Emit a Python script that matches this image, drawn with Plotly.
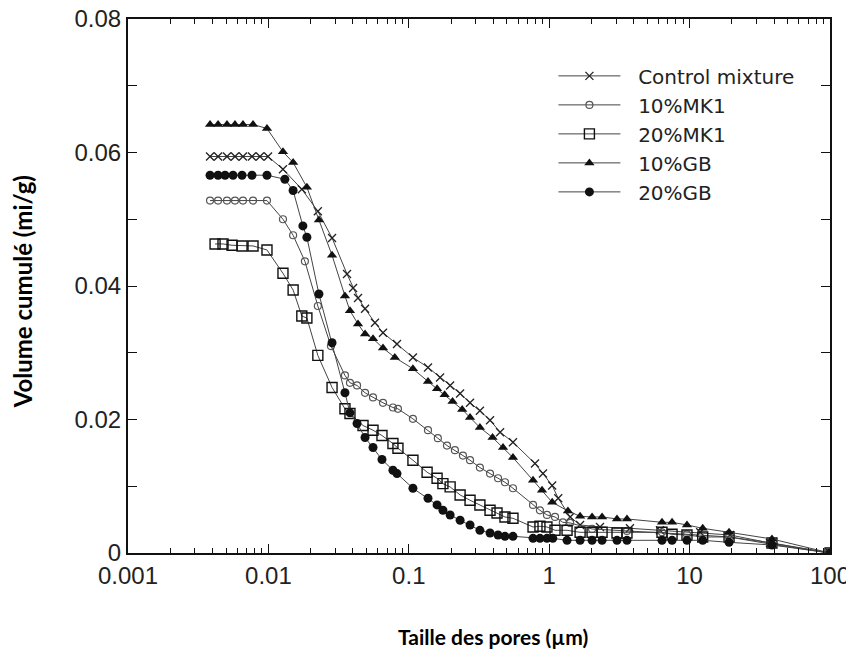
import plotly.graph_objects as go

# ---- data (pore size in µm, cumulative volume) ----
ctrl_x = [0.00384, 0.00438, 0.00507, 0.00578, 0.00659, 0.00764, 0.00871, 0.00994, 0.0127, 0.0173,
          0.0225, 0.0284, 0.0363, 0.0401, 0.0435, 0.0488, 0.0574, 0.0655, 0.0824, 0.107, 0.137,
          0.167, 0.197, 0.232, 0.273, 0.321, 0.379, 0.447, 0.552, 0.792, 0.903, 1.05, 1.16, 1.41,
          1.66, 2.30, 3.76, 6.15, 11.9, 19.4, 37.4, 100]
ctrl_y = [0.0594, 0.0594, 0.0594, 0.0594, 0.0594, 0.0594, 0.0594, 0.0594, 0.0575, 0.0545,
          0.0512, 0.0472, 0.0418, 0.0397, 0.0382, 0.0366, 0.0345, 0.0330, 0.0313, 0.0293, 0.0278,
          0.0263, 0.0251, 0.0239, 0.0225, 0.0213, 0.0199, 0.0181, 0.0166, 0.0134, 0.0119, 0.0101,
          0.0082, 0.0054, 0.0042, 0.0039, 0.0037, 0.0034, 0.0031, 0.0027, 0.0015, 0.0]

mk10_x = [0.00384, 0.00438, 0.00507, 0.00578, 0.00659, 0.00777, 0.00977, 0.0127, 0.0150, 0.0182,
          0.0225, 0.0279, 0.0351, 0.0381, 0.0428, 0.0488, 0.0556, 0.0655, 0.0771, 0.0837, 0.107,
          0.137, 0.161, 0.187, 0.213, 0.243, 0.273, 0.321, 0.379, 0.432, 0.484, 0.552, 0.767,
          0.859, 0.964, 1.10, 1.25, 1.41, 2.02, 3.58, 6.36, 9.58, 19.1, 38.6, 100]
mk10_y = [0.0528, 0.0528, 0.0528, 0.0528, 0.0528, 0.0528, 0.0528, 0.0500, 0.0476, 0.0437,
          0.0370, 0.0310, 0.0266, 0.0255, 0.0251, 0.0240, 0.0233, 0.0225, 0.0218, 0.0216, 0.0201,
          0.0184, 0.0172, 0.0161, 0.0154, 0.0146, 0.0139, 0.0128, 0.0119, 0.0112, 0.0106, 0.0097,
          0.0072, 0.0064, 0.0057, 0.0054, 0.0046, 0.0045, 0.0036, 0.0033, 0.0031, 0.0028, 0.0024,
          0.0013, 0.0]

mk20_x = [0.00417, 0.00475, 0.00551, 0.00649, 0.00777, 0.00977, 0.0127, 0.0150, 0.0173, 0.0188,
          0.0225, 0.0284, 0.0351, 0.0381, 0.0472, 0.0556, 0.0644, 0.0771, 0.0837, 0.107, 0.135,
          0.159, 0.175, 0.197, 0.232, 0.273, 0.321, 0.379, 0.425, 0.484, 0.552, 0.767, 0.859,
          0.964, 1.10, 1.34, 1.66, 2.02, 2.38, 3.04, 3.58, 6.36, 7.50, 9.58, 12.4, 19.1, 38.6, 100]
mk20_y = [0.0463, 0.0463, 0.0461, 0.0460, 0.0460, 0.0454, 0.0419, 0.0394, 0.0355, 0.0352,
          0.0296, 0.0248, 0.0216, 0.0209, 0.0191, 0.0184, 0.0176, 0.0164, 0.0157, 0.0139, 0.0121,
          0.0112, 0.0104, 0.0099, 0.0087, 0.0079, 0.0072, 0.0064, 0.0060, 0.0054, 0.0052, 0.0039,
          0.0040, 0.0039, 0.0034, 0.0034, 0.0031, 0.0031, 0.0031, 0.0030, 0.0030, 0.0031, 0.0028,
          0.0027, 0.0024, 0.0024, 0.0015, 0.0]

gb10_x = [0.00384, 0.00438, 0.00507, 0.00578, 0.00659, 0.00777, 0.00977, 0.0127, 0.0150, 0.0188,
          0.0229, 0.0284, 0.0351, 0.0381, 0.0435, 0.0488, 0.0556, 0.0655, 0.0795, 0.107, 0.137,
          0.159, 0.180, 0.205, 0.240, 0.273, 0.321, 0.395, 0.469, 0.552, 0.767, 0.889, 1.05,
          1.36, 1.66, 2.02, 2.38, 3.04, 3.58, 6.36, 7.50, 9.58, 12.4, 19.1, 38.6, 100]
gb10_y = [0.0642, 0.0642, 0.0642, 0.0642, 0.0642, 0.0642, 0.0636, 0.0601, 0.0585, 0.0548,
          0.0499, 0.0446, 0.0385, 0.0363, 0.0343, 0.0328, 0.0321, 0.0307, 0.0293, 0.0276, 0.0257,
          0.0246, 0.0237, 0.0227, 0.0215, 0.0203, 0.0188, 0.0173, 0.0158, 0.0143, 0.0109, 0.0094,
          0.0076, 0.0063, 0.0055, 0.0054, 0.0054, 0.0051, 0.0051, 0.0046, 0.0046, 0.0042, 0.0037,
          0.0031, 0.0021, 0.0]

gb20_x = [0.00384, 0.00438, 0.00491, 0.00560, 0.00649, 0.00764, 0.00977, 0.0131, 0.0150, 0.0176,
          0.0188, 0.0229, 0.0284, 0.0351, 0.0381, 0.0428, 0.0488, 0.0556, 0.0644, 0.0771, 0.0824,
          0.107, 0.137, 0.159, 0.175, 0.197, 0.232, 0.273, 0.321, 0.379, 0.432, 0.484, 0.552,
          0.767, 0.859, 0.964, 1.06, 1.34, 1.66, 2.02, 2.38, 3.04, 3.58, 6.36, 7.50, 9.58, 12.4,
          19.1, 38.6, 100]
gb20_y = [0.0566, 0.0566, 0.0566, 0.0566, 0.0566, 0.0566, 0.0566, 0.0560, 0.0543, 0.0490,
          0.0473, 0.0388, 0.0315, 0.0240, 0.0210, 0.0194, 0.0173, 0.0158, 0.0140, 0.0124, 0.0119,
          0.0097, 0.0082, 0.0072, 0.0064, 0.0057, 0.0049, 0.0042, 0.0034, 0.0030, 0.0027, 0.0025,
          0.0025, 0.0022, 0.0022, 0.0022, 0.0022, 0.0019, 0.0019, 0.0019, 0.0019, 0.0019, 0.0019,
          0.0019, 0.0019, 0.0019, 0.0019, 0.0016, 0.0012, 0.0]

names = ["Control mixture", "10%MK1", "20%MK1", "10%GB", "20%GB"]
x_ticks = [0.001, 0.01, 0.1, 1, 10, 100]
x_tick_text = ["0.001", "0.01", "0.1", "1", "10", "100"]
y_ticks = [0, 0.02, 0.04, 0.06, 0.08]
y_tick_text = ["0", "0.02", "0.04", "0.06", "0.08"]

series = [
    (ctrl_x, ctrl_y, dict(symbol="x-thin-open", size=8, color="#222", line=dict(width=1.3, color="#222"))),
    (mk10_x, mk10_y, dict(symbol="circle-open", size=7, color="#555", line=dict(width=1.2, color="#555"))),
    (mk20_x, mk20_y, dict(symbol="square-open", size=10, color="#111", line=dict(width=1.4, color="#111"))),
    (gb10_x, gb10_y, dict(symbol="triangle-up", size=9, color="#111")),
    (gb20_x, gb20_y, dict(symbol="circle", size=9, color="#111")),
]

fig = go.Figure()
for (xs, ys, mk), nm in zip(series, names):
    fig.add_trace(go.Scatter(x=xs, y=ys, mode="lines+markers", name="\u00a0\u00a0" + nm,
                             line=dict(color="#444", width=1), marker=mk))

tick_font = dict(family="Liberation Sans, Arial, sans-serif", size=24, color="#222")
common = dict(ticks="inside", ticklen=9, tickwidth=1, tickcolor="#111",
              showline=True, linecolor="#111", linewidth=2, mirror="allticks",
              showgrid=False, zeroline=False, tickfont=tick_font, automargin=False,
              ticklabeloverflow="allow")
fig.update_xaxes(type="log", range=[-3, 2], tickvals=x_ticks, ticktext=x_tick_text,
                 minor=dict(ticks="inside", ticklen=5, tickwidth=1, tickcolor="#111",
                            dtick="D1", showgrid=False), **common)
fig.update_yaxes(range=[0, 0.08], tickvals=y_ticks, ticktext=y_tick_text,
                 minor=dict(ticks="inside", ticklen=9, tickwidth=1, tickcolor="#111",
                            dtick=0.01, showgrid=False), **common)

# the page body has an 8px default margin; the figure is sized so the page never scrolls
fig.update_layout(
    width=846, height=643,
    margin=dict(l=120, r=24, t=11, b=98),
    plot_bgcolor="white", paper_bgcolor="white",
    showlegend=True,
    legend=dict(x=0.606, y=0.93, xanchor="left", yanchor="top",
                font=dict(family="DejaVu Sans, Liberation Sans, sans-serif", size=20, color="#222"),
                itemwidth=62, bgcolor="rgba(0,0,0,0)", tracegroupgap=0),
    annotations=[
        dict(text="<b>Taille des pores (µm)</b>", xref="paper", yref="paper",
             x=0.52, y=-0.157, xanchor="center", yanchor="middle", showarrow=False,
             font=dict(family="Lato, Open Sans, sans-serif", size=21, color="#000")),
        dict(text="<b>Volume cumulé (mi/g)</b>", xref="paper", yref="paper",
             x=-0.151, y=0.49, xanchor="center", yanchor="middle", showarrow=False, textangle=-90,
             font=dict(family="Lato, Open Sans, sans-serif", size=24, color="#000")),
    ],
)

fig.write_html("out.html")
